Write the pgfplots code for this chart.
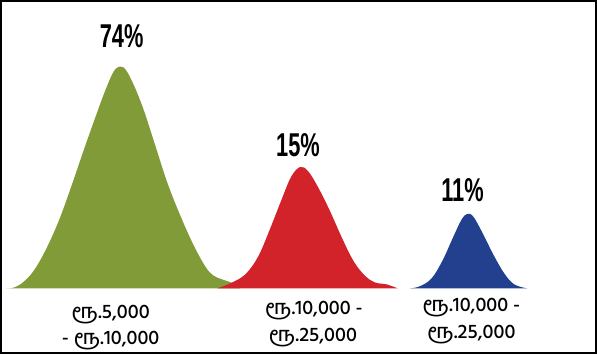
\documentclass[border=0pt]{standalone}
\usepackage{pgfplots}
\pgfplotsset{compat=1.18}
\usepackage{graphicx}
\usepackage{fontspec}
\setmainfont{Liberation Sans}
\newfontfamily\tamilfont[Script=Tamil, UprightFont=* Medium]{Hind Madurai}
\definecolor{cgreen}{HTML}{819B39}
\definecolor{cred}{HTML}{D2232A}
\definecolor{cblue}{HTML}{23408E}
\newcommand{\pct}[1]{\scalebox{0.66}[1]{\fontsize{33}{33}\selectfont\bfseries #1}}
\begin{document}
\begin{tikzpicture}
\begin{axis}[
  scale only axis, width=595pt, height=352pt,
  xmin=0, xmax=597, ymin=0, ymax=354,
  axis line style={line width=2pt, black},
  xtick=\empty, ytick=\empty,
  clip=false,
]
\addplot[fill=cgreen, draw=none, smooth, tension=0.6] coordinates {
(5,65) (12,65.5) (22,71) (33,83) (45,104) (58,133) (70,166) (83,204) (95,238) (105,265) (113,283) (119,288) (125,285) (133,270) (143,245) (155,208) (167,171) (180,138) (193,109) (205,87) (213,78) (222,74) (233,70) (240,65)};
\addplot[fill=cred, draw=none, smooth, tension=0.6] coordinates {
(217,65) (230,70) (245,79) (258,97) (270,125) (281,153) (291,177) (300,187) (308,183) (318,167) (330,143) (342,116) (354,92) (365,78) (375,71) (387,69) (398,65)};
\addplot[fill=cblue, draw=none, smooth, tension=0.6] coordinates {
(410,65) (420,67) (432,75) (443,93) (453,115) (462,134) (468,140) (474,137) (483,121) (494,99) (505,80) (515,69) (528,65)};
\node at (axis cs:121,319) {\pct{74\%}};
\node at (axis cs:298,209) {\pct{15\%}};
\node at (axis cs:463,164) {\pct{11\%}};
\begin{scope}[every node/.style={font=\tamilfont\fontsize{20}{20}\selectfont}]
\node at (axis cs:110,39) {ரூ.5,000};
\node at (axis cs:110,12) {- ரூ.10,000};
\node at (axis cs:314,43) {ரூ.10,000 -};
\node at (axis cs:313,16) {ரூ.25,000};
\node at (axis cs:472,46) {ரூ.10,000 -};
\node at (axis cs:472,19) {ரூ.25,000};
\end{scope}
\end{axis}
\end{tikzpicture}
\end{document}
